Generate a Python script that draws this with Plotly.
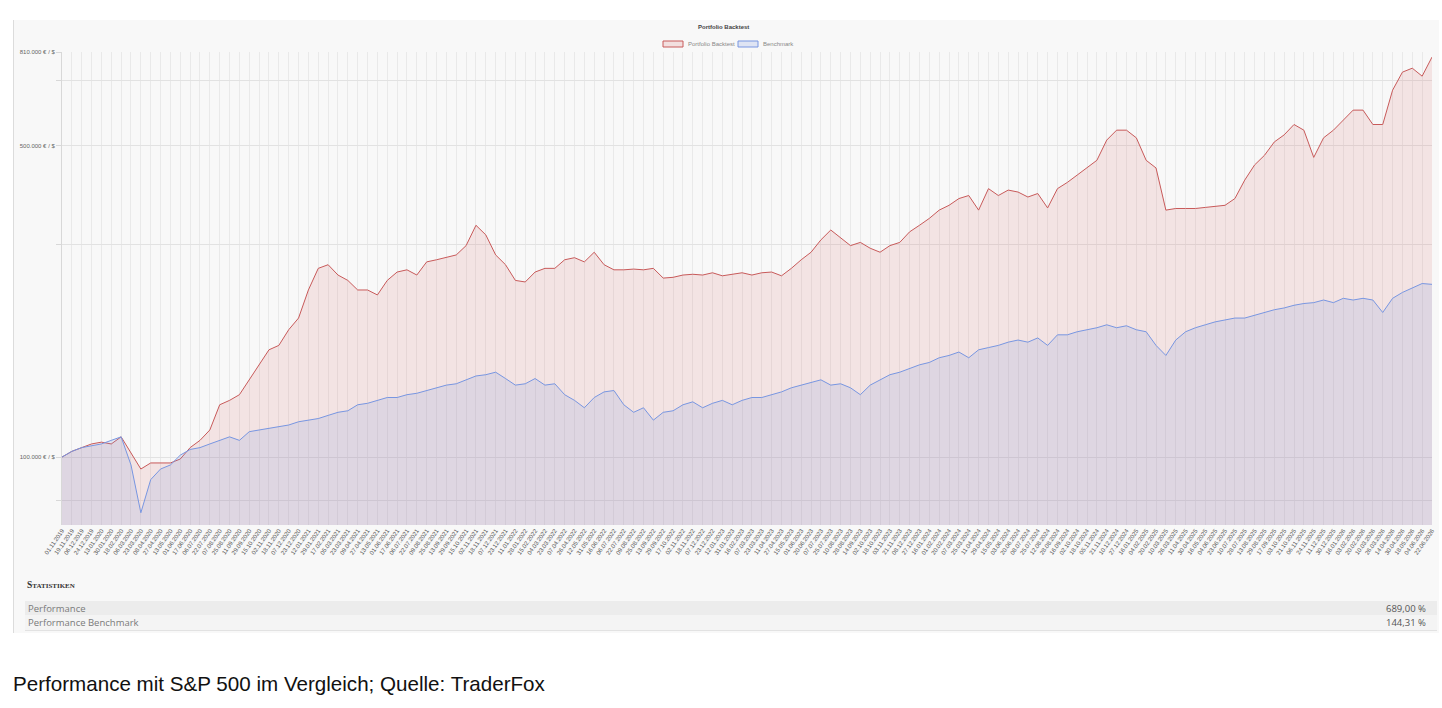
import plotly.graph_objects as go

# ---------------- data ----------------
date_labels = [
    "01.11.2019", "19.11.2019", "06.12.2019", "24.12.2019", "13.01.2020", "30.01.2020", "18.02.2020",
    "06.03.2020", "23.03.2020", "08.04.2020", "27.04.2020", "13.05.2020", "01.06.2020", "17.06.2020",
    "06.07.2020", "22.07.2020", "07.08.2020", "25.08.2020", "11.09.2020", "29.09.2020", "15.10.2020",
    "02.11.2020", "18.11.2020", "07.12.2020", "23.12.2020", "12.01.2021", "29.01.2021", "17.02.2021",
    "05.03.2021", "23.03.2021", "09.04.2021", "27.04.2021", "13.05.2021", "01.06.2021", "17.06.2021",
    "06.07.2021", "22.07.2021", "09.08.2021", "25.08.2021", "13.09.2021", "29.09.2021", "15.10.2021",
    "02.11.2021", "18.11.2021", "07.12.2021", "23.12.2021",
    "11.01.2022", "28.01.2022", "15.02.2022", "04.03.2022", "23.03.2022", "07.04.2022", "26.04.2022",
    "12.05.2022", "31.05.2022", "16.06.2022", "06.07.2022", "22.07.2022", "09.08.2022", "25.08.2022",
    "13.09.2022", "29.09.2022", "17.10.2022", "02.11.2022", "18.11.2022", "07.12.2022", "23.12.2022",
    "12.01.2023", "31.01.2023", "16.02.2023", "07.03.2023", "23.03.2023", "11.04.2023", "27.04.2023",
    "15.05.2023", "01.06.2023", "20.06.2023", "07.07.2023", "25.07.2023", "10.08.2023", "28.08.2023",
    "14.09.2023", "02.10.2023", "18.10.2023", "03.11.2023", "21.11.2023", "08.12.2023", "27.12.2023",
    "16.01.2024", "01.02.2024", "20.02.2024", "07.03.2024", "25.03.2024", "11.04.2024", "29.04.2024",
    "15.05.2024", "03.06.2024", "20.06.2024", "08.07.2024", "25.07.2024", "12.08.2024", "28.08.2024",
    "16.09.2024", "02.10.2024", "18.10.2024", "05.11.2024", "21.11.2024", "10.12.2024", "27.12.2024",
    "16.01.2025", "04.02.2025", "20.02.2025", "10.03.2025", "26.03.2025", "11.04.2025", "30.04.2025",
    "16.05.2025", "04.06.2025", "23.06.2025", "10.07.2025", "28.07.2025", "13.08.2025", "29.08.2025",
    "17.09.2025", "03.10.2025", "21.10.2025", "06.11.2025", "24.11.2025", "11.12.2025", "30.12.2025",
    "16.01.2026", "03.02.2026", "20.02.2026", "10.03.2026", "26.03.2026", "14.04.2026", "30.04.2026",
    "18.05.2026", "04.06.2026", "22.06.2026",
]

portfolio = [
    100000, 103000, 105000, 107000, 108000, 107000, 111000, 102000, 94000, 97000,
    97000, 97000, 99000, 105000, 109000, 115000, 131000, 134000, 138000, 149000,
    161000, 174000, 178000, 193000, 205000, 237000, 265000, 270000, 256000, 249000,
    237000, 237000, 231000, 249000, 260000, 263000, 256000, 274000, 277000, 280000,
    284000, 298000, 331000, 315000, 284000, 270000, 249000, 247000, 260000, 265000,
    265000, 277000, 280000, 274000, 288000, 270000, 263000, 263000, 264000, 263000,
    265000, 252000, 253000, 256000, 257000, 256000, 259000, 255000, 257000, 259000,
    256000, 259000, 260000, 255000, 265000, 277000, 288000, 307000, 323000, 310000,
    298000, 303000, 294000, 288000, 298000, 303000, 320000, 331000, 343000, 358000,
    367000, 380000, 386000, 358000, 400000, 386000, 397000, 393000, 383000, 390000,
    362000, 400000, 413000, 429000, 445000, 463000, 514000, 541000, 541000, 520000,
    463000, 445000, 358000, 361000, 361000, 361000, 363000, 365000, 367000, 380000,
    418000, 452000, 475000, 509000, 528000, 557000, 541000, 470000, 520000, 541000,
    570000, 600000, 600000, 557000, 557000, 665000, 730000, 745000, 715000, 789000,
]

benchmark = [
    100000, 103000, 105000, 106000, 107000, 109000, 111000, 96000, 75000, 89000,
    94000, 96000, 101000, 104000, 105000, 107000, 109000, 111000, 109000, 114000,
    115000, 116000, 117000, 118000, 120000, 121000, 122000, 124000, 126000, 127000,
    131000, 132000, 134000, 136000, 136000, 138000, 139000, 141000, 143000, 145000,
    146000, 149000, 152000, 153000, 155000, 150000, 145000, 146000, 150000, 145000,
    146000, 138000, 134000, 129000, 136000, 140000, 141000, 131000, 126000, 129000,
    121000, 126000, 127000, 131000, 133000, 129000, 132000, 134000, 131000, 134000,
    136000, 136000, 138000, 140000, 143000, 145000, 147000, 149000, 145000, 146000,
    143000, 138000, 145000, 149000, 153000, 155000, 158000, 161000, 163000, 167000,
    169000, 172000, 167000, 174000, 176000, 178000, 181000, 183000, 181000, 185000,
    178000, 188000, 188000, 191000, 193000, 195000, 198000, 195000, 197000, 193000,
    191000, 178000, 169000, 183000, 191000, 195000, 198000, 201000, 203000, 205000,
    205000, 208000, 211000, 214000, 216000, 219000, 221000, 222000, 225000, 222000,
    227000, 225000, 227000, 225000, 211000, 227000, 234000, 239000, 245000, 244000,
]

y_ticks = [80000, 100000, 300000, 500000, 700000, 810000]
y_tick_text = ["", "100.000 € / $", "", "500.000 € / $", "", "810.000 € / $"]

stats_labels = ["Performance", "Performance Benchmark"]
stats_values = ["689,00 %", "144,31 %"]

# ---------------- geometry helpers ----------------
W, H = 1442, 708
L, R, T, B = 62, 10, 52, 183
PW, PH = W - L - R, H - T - B


def px(x):
    return (x - L) / PW


def py(y):
    return 1 - (y - T) / PH


xs = list(range(len(date_labels)))

fig = go.Figure()
fig.add_trace(go.Scatter(
    x=xs, y=portfolio, name="Portfolio Backtest", mode="lines",
    line=dict(color="rgb(200,90,90)", width=1),
    fill="tozeroy", fillcolor="rgba(215,110,110,0.15)", showlegend=False,
))
fig.add_trace(go.Scatter(
    x=xs, y=benchmark, name="Benchmark", mode="lines",
    line=dict(color="rgb(120,150,225)", width=1),
    fill="tozeroy", fillcolor="rgba(110,140,220,0.15)", showlegend=False,
))

shapes = []
# chart container
shapes.append(dict(type="rect", xref="paper", yref="paper", layer="below",
                   x0=px(13), x1=px(1439), y0=py(20), y1=py(633),
                   fillcolor="#f8f8f8", line=dict(width=0)))
shapes.append(dict(type="line", xref="paper", yref="paper", layer="below",
                   x0=px(13.5), x1=px(13.5), y0=py(20), y1=py(633),
                   line=dict(color="#dcdcdc", width=1)))
# stats rows
shapes.append(dict(type="rect", xref="paper", yref="paper", layer="below",
                   x0=px(25), x1=px(1437), y0=py(601), y1=py(615),
                   fillcolor="#ececec", line=dict(width=0)))
shapes.append(dict(type="rect", xref="paper", yref="paper", layer="below",
                   x0=px(25), x1=px(1437), y0=py(615), y1=py(630),
                   fillcolor="#f4f4f4", line=dict(width=0)))
shapes.append(dict(type="line", xref="paper", yref="paper", layer="below",
                   x0=px(25), x1=px(1437), y0=py(630.5), y1=py(630.5),
                   line=dict(color="#e2e2e2", width=1)))
# legend swatches
shapes.append(dict(type="rect", xref="paper", yref="paper",
                   x0=px(663), x1=px(683), y0=py(41), y1=py(47),
                   fillcolor="rgba(215,110,110,0.18)", line=dict(color="rgb(200,90,90)", width=1)))
shapes.append(dict(type="rect", xref="paper", yref="paper",
                   x0=px(738), x1=px(758), y0=py(41), y1=py(47),
                   fillcolor="rgba(110,140,220,0.18)", line=dict(color="rgb(120,150,225)", width=1)))

annotations = [
    dict(text="<b>Portfolio Backtest</b>", x=px(723), y=py(27), xref="paper", yref="paper",
         showarrow=False, xanchor="center", yanchor="middle",
         font=dict(family="Liberation Sans, Arial", size=6, color="#444")),
    dict(text="Portfolio Backtest", x=px(686), y=py(44), xref="paper", yref="paper",
         showarrow=False, xanchor="left", yanchor="middle",
         font=dict(family="Liberation Sans, Arial", size=6, color="#888")),
    dict(text="Benchmark", x=px(761), y=py(44), xref="paper", yref="paper",
         showarrow=False, xanchor="left", yanchor="middle",
         font=dict(family="Liberation Sans, Arial", size=6, color="#888")),
    dict(text="<b>S<span style='font-size:7px'>TATISTIKEN</span></b>", x=px(25), y=py(585),
         xref="paper", yref="paper", showarrow=False, xanchor="left", yanchor="middle",
         font=dict(family="Liberation Serif, DejaVu Serif", size=9.5, color="#333")),
    dict(text="Performance mit S&P 500 im Vergleich; Quelle: TraderFox", x=px(11), y=py(683),
         xref="paper", yref="paper", showarrow=False, xanchor="left", yanchor="middle",
         font=dict(family="Liberation Sans, Arial", size=20.6, color="#111")),
]
row_y = [608, 622]
for lab, val, yy in zip(stats_labels, stats_values, row_y):
    annotations.append(dict(text=lab, x=px(26), y=py(yy), xref="paper", yref="paper",
                            showarrow=False, xanchor="left", yanchor="middle",
                            font=dict(family="Open Sans", size=9.5, color="#7a7a7a")))
    annotations.append(dict(text=val, x=px(1428), y=py(yy), xref="paper", yref="paper",
                            showarrow=False, xanchor="right", yanchor="middle",
                            font=dict(family="Open Sans", size=9.5, color="#555")))

fig.update_layout(
    width=W, height=H,
    margin=dict(l=L, r=R, t=T, b=B, pad=0),
    paper_bgcolor="white", plot_bgcolor="rgba(0,0,0,0)",
    showlegend=False,
    shapes=shapes, annotations=annotations,
    xaxis=dict(
        range=[0, len(date_labels) - 1], tickmode="array", tickvals=xs, ticktext=date_labels,
        tickangle=-55, tickfont=dict(family="Liberation Sans, Arial", size=6, color="#555"),
        showgrid=True, gridcolor="#e9e9e9", gridwidth=1,
        zeroline=False, showline=False, ticks="", automargin=False,
    ),
    yaxis=dict(
        type="log", range=[4.8476, 5.9085], tickmode="array", tickvals=y_ticks,
        ticktext=y_tick_text, tickfont=dict(family="Liberation Sans, Arial", size=6, color="#666"),
        showgrid=True, gridcolor="#e2e2e2", gridwidth=1,
        ticks="outside", ticklen=5, tickcolor="#d8d8d8",
        showline=True, linecolor="#d8d8d8", linewidth=1,
        zeroline=False, automargin=False,
    ),
)

fig.write_html("out.html")
